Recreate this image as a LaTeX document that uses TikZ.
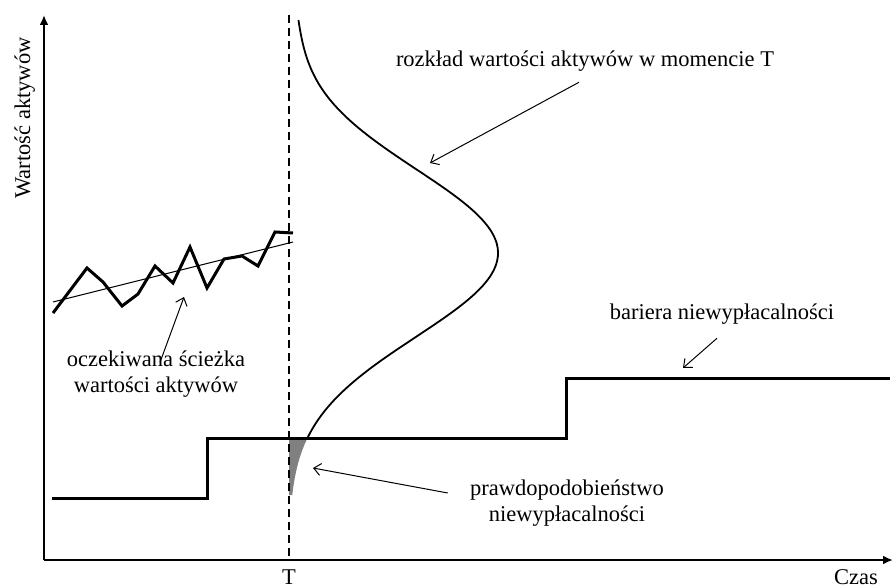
\documentclass[tikz,border=0pt]{standalone}
\usepackage{fontspec}
\setmainfont{Liberation Serif}
\usetikzlibrary{arrows.meta}
\begin{document}
\begin{tikzpicture}[x=0.5pt,y=-0.5pt,font=\fontsize{11.25}{13}\selectfont]
  \tikzstyle{lbl}=[inner sep=0,align=center]
  \tikzstyle{note}=[line width=0.5pt,-{Straight Barb[length=3.5pt,width=6pt]}]
  \tikzstyle{axis}=[line width=1pt,-{Latex[length=5pt,width=4.5pt]}]
  \tikzstyle{thick line}=[line width=1.5pt]
  \useasboundingbox (0,0) rectangle (893,588);

  % axes
  \coordinate (O) at (44,560);
  \coordinate (ytop) at (44,15);
  \coordinate (xend) at (893,560);
  \draw[axis] (O) -- (ytop);
  \draw[axis] (O) -- (xend);
  \node[lbl,rotate=90,anchor=base] (yl) at (30,118) {Wartość aktywów};
  \node[lbl,anchor=base] (czas) at (856,584) {Czas};

  % moment T
  \coordinate (Ttop) at (289,15);
  \coordinate (Tbot) at (289,560);
  \fill[gray] (289,438) -- plot[domain=438:495,samples=20,variable=\t]
    ({289+209*exp(-0.5*((\t-253)/84)^2)},\t) -- (289,495) -- cycle;
  \draw[line width=0.6pt,dash pattern=on 4pt off 2.5pt] (Ttop) -- (Tbot);
  \node[lbl,anchor=base] (T) at (289,584) {T};

  % rozklad w momencie T
  \draw[line width=0.9pt] plot[domain=20:438,samples=100,smooth,variable=\t]
    ({289+209*exp(-0.5*((\t-253)/84)^2)+5*exp(-0.5*((\t-20)/50)^2)},\t);

  % bariera
  \draw[thick line] (52,498) -- (207,498) -- (207,438) -- (566,438) -- (566,378) -- (890,378);

  % sciezka wartosci aktywow
  \draw[thick line,line join=miter] (53,313) -- (87,268) -- (103,282) -- (122,306) -- (138,294)
    -- (155,266) -- (173,283) -- (190,247) -- (207,288) -- (224,259) -- (242,256)
    -- (258,266) -- (275,232) -- (293,233);
  \draw[line width=0.5pt] (53,302) -- (293,242);

  % opisy
  \node[lbl,anchor=base] (rozklad) at (585,67) {rozkład wartości aktywów w momencie T};
  \node[lbl,anchor=base] (bariera) at (722,319) {bariera niewypłacalności};
  \node[lbl] (sciezka) at (156,374) {oczekiwana ścieżka\\wartości aktywów};
  \node[lbl] (prawd) at (567,503) {prawdopodobieństwo\\niewypłacalności};

  \coordinate (c1) at (430,163);
  \coordinate (c2) at (683,368);
  \coordinate (c3) at (184,297);
  \coordinate (c4) at (313,468);
  \draw[note] ([xshift=-3pt,yshift=-5pt]rozklad.south) -- (c1);
  \draw[note] ([xshift=-2.5pt,yshift=-7pt]bariera.south) -- (c2);
  \draw[note] ([xshift=2pt,yshift=-6pt]sciezka.north) -- (c3);
  \draw[note] ([xshift=-11pt,yshift=5pt]prawd.west) -- (c4);
\end{tikzpicture}
\end{document}
